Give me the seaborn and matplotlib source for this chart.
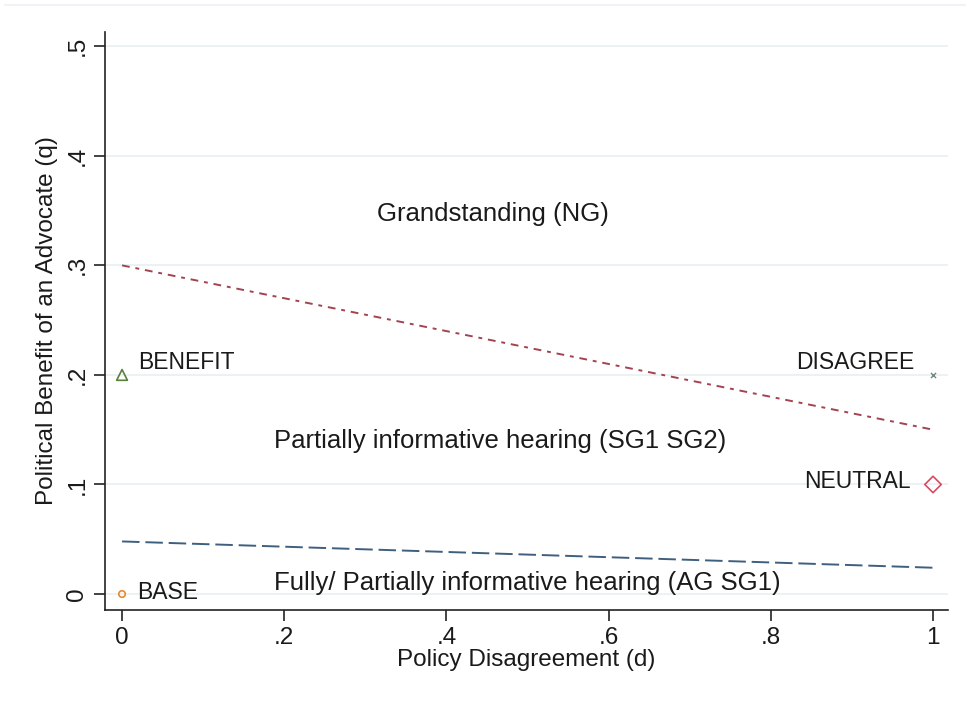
import matplotlib
matplotlib.use("Agg")
import matplotlib.pyplot as plt
import seaborn as sns
import pandas as pd
from matplotlib.lines import Line2D

# boundary lines
d_line = [0.0, 0.5, 1.0]
q_ng_bound = [0.300, 0.225, 0.150]
q_ag_bound = [0.048, 0.036, 0.024]

# scenario points
pt_names = ["BENEFIT", "DISAGREE", "NEUTRAL", "BASE"]
pt_d = [0.0, 1.0, 1.0, 0.0]
pt_q = [0.2, 0.2, 0.1, 0.0]

regions = ["Grandstanding (NG)",
           "Partially informative hearing (SG1 SG2)",
           "Fully/ Partially informative hearing (AG SG1)"]
region_d = [0.457, 0.466, 0.50]
region_q = [0.347, 0.140, 0.010]

xticks = [0, 0.2, 0.4, 0.6, 0.8, 1.0]
xticklabels = ["0", ".2", ".4", ".6", ".8", "1"]
yticks = [0, 0.1, 0.2, 0.3, 0.4, 0.5]
yticklabels = ["0", ".1", ".2", ".3", ".4", ".5"]

sns.set_style("white")
plt.rcParams["font.family"] = ["Liberation Sans", "DejaVu Sans"]

fig = plt.figure(figsize=(9.66, 7.04), dpi=100)
ax = fig.add_axes([0.1087, 0.1335, 0.8727, 0.821])

for q in yticks:
    ax.axhline(q, color="#e9f1f2", lw=1.3, zorder=0)

lines = pd.DataFrame({"d": d_line + d_line,
                      "q": q_ng_bound + q_ag_bound,
                      "b": ["ng"] * 3 + ["ag"] * 3})
sns.lineplot(data=lines[lines.b == "ng"], x="d", y="q", ax=ax,
             color="#a3434f", lw=1.4, linestyle=(0, (4, 3, 2, 3)))
sns.lineplot(data=lines[lines.b == "ag"], x="d", y="q", ax=ax,
             color="#3f5f7f", lw=1.4, linestyle=(0, (9, 3)))

pts = pd.DataFrame({"name": pt_names, "d": pt_d, "q": pt_q})
styles = {"BENEFIT": ("^", "#5a7f3a", 60),
          "DISAGREE": ("x", "#6e8a80", 14),
          "NEUTRAL": ("D", "#d94a62", 70),
          "BASE": ("o", "#e8892c", 22)}
for name, (m, c, s) in styles.items():
    sub = pts[pts.name == name]
    if m == "x":
        sns.scatterplot(data=sub, x="d", y="q", ax=ax, marker=m, color=c,
                        s=s, linewidth=1.0, zorder=4)
    else:
        sns.scatterplot(data=sub, x="d", y="q", ax=ax, marker=m,
                        facecolor="none", edgecolor=c, s=s, linewidth=1.2,
                        zorder=4)

fs = 17.5
fs_pt = 16.5
fs_reg = 18.5
ax.text(0.02, 0.201, "BENEFIT", fontsize=fs_pt, ha="left", va="bottom", color="#1a1a1a")
ax.text(0.977, 0.201, "DISAGREE", fontsize=fs_pt, ha="right", va="bottom", color="#1a1a1a")
ax.text(0.973, 0.103, "NEUTRAL", fontsize=fs_pt, ha="right", va="center", color="#1a1a1a")
ax.text(0.018, 0.001, "BASE", fontsize=fs_pt, ha="left", va="center", color="#1a1a1a")

for t, x, y in zip(regions, region_d, region_q):
    ax.text(x, y, t, fontsize=fs_reg, ha="center", va="center", color="#1a1a1a")

ax.set_xlim(-0.021, 1.0185)
ax.set_ylim(-0.0146, 0.513)
ax.set_xticks(xticks)
ax.set_xticklabels(xticklabels)
ax.set_yticks(yticks)
ax.set_yticklabels(yticklabels, rotation=90, va="center")
ax.tick_params(axis="both", direction="out", length=8, width=1.2,
               color="#222222", labelsize=fs, labelcolor="#1a1a1a",
               left=True, bottom=True, pad=4)

for s in ["top", "right"]:
    ax.spines[s].set_visible(False)
for s in ["left", "bottom"]:
    ax.spines[s].set_color("#222222")
    ax.spines[s].set_linewidth(1.2)

ax.set_xlabel("Policy Disagreement (d)", fontsize=fs, color="#1a1a1a", labelpad=0)
ax.set_ylabel("Political Benefit of an Advocate (q)", fontsize=fs,
              color="#1a1a1a", labelpad=6)

fig.add_artist(Line2D([0.005, 1.0], [0.993, 0.993], transform=fig.transFigure,
                      color="#eef3f5", lw=1.5))

fig.savefig("out.png", dpi=100)
